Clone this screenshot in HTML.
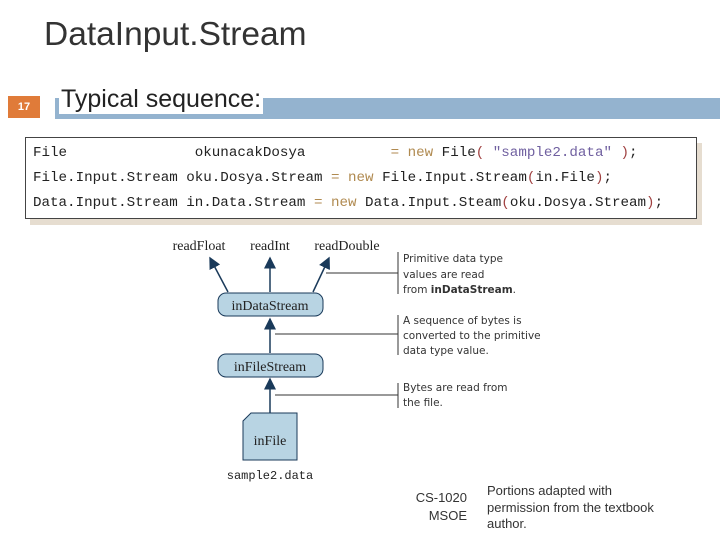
<!DOCTYPE html>
<html><head><style>
body{margin:0;width:720px;height:540px;background:#fff;position:relative;overflow:hidden;font-family:"Liberation Sans",sans-serif}
.a{position:absolute;white-space:pre}
.code{font-family:"Liberation Mono",monospace;font-size:14.2px;color:#222}
.k{color:#b08a50}.s{color:#7060a0}.p{color:#a04040}
</style></head><body>
<div class="a" style="left:44px;top:16px;font-size:33.5px;color:#333">DataInput.Stream</div>
<div class="a" style="left:55px;top:98px;width:665px;height:21px;background:#94b3cf"></div>
<div class="a" style="left:8px;top:96px;width:32px;height:22px;background:#e07b39;color:#fff;font-size:11px;font-weight:bold;text-align:center;line-height:22px">17</div>
<div class="a" style="left:59px;top:85px;font-size:25px;color:#222;background:#fff;padding:0 2px">Typical sequence:</div>
<div class="a" style="left:30px;top:143px;width:672px;height:82px;background:#e6ddd0"></div>
<div class="a" style="left:25px;top:137px;width:670px;height:80px;border:1px solid #444;background:#fff"></div>
<div class="a code" style="left:33px;top:145px">File               okunacakDosya          <span class="k">=</span> <span class="k">new</span> File<span class="p">(</span> <span class="s">"sample2.data"</span> <span class="p">)</span>;</div>
<div class="a code" style="left:33px;top:170px">File.Input.Stream oku.Dosya.Stream <span class="k">= new</span> File.Input.Stream<span class="p">(</span>in.File<span class="p">)</span>;</div>
<div class="a code" style="left:33px;top:195px">Data.Input.Stream in.Data.Stream <span class="k">= new</span> Data.Input.Steam<span class="p">(</span>oku.Dosya.Stream<span class="p">)</span>;</div>
<svg class="a" style="left:0;top:0" width="720" height="540">
<defs><marker id="ar" markerWidth="8" markerHeight="8" refX="7" refY="4" orient="auto"><path d="M0,0L8,4L0,8z" fill="#1a3a5a"/></marker></defs>
<g stroke="#1a3a5a" stroke-width="1.5" fill="none">
<line x1="228" y1="292" x2="210" y2="258" marker-end="url(#ar)"/>
<line x1="270" y1="292" x2="270" y2="258" marker-end="url(#ar)"/>
<line x1="313" y1="292" x2="329" y2="258" marker-end="url(#ar)"/>
<line x1="270" y1="353" x2="270" y2="319" marker-end="url(#ar)"/>
<line x1="270" y1="413" x2="270" y2="379" marker-end="url(#ar)"/>
</g>
<g stroke="#1a3a5a" stroke-width="1">
<rect x="218" y="293" width="105" height="23" rx="8" fill="#b8d4e3"/>
<rect x="218" y="354" width="105" height="23" rx="8" fill="#b8d4e3"/>
<path d="M251,413H297V460H243V421Z" fill="#b8d4e3"/>
</g>
<g stroke="#333" stroke-width="1">
<line x1="398" y1="252" x2="398" y2="294"/><line x1="326" y1="273" x2="398" y2="273"/>
<line x1="398" y1="315" x2="398" y2="355"/><line x1="275" y1="334" x2="398" y2="334"/>
<line x1="398" y1="383" x2="398" y2="408"/><line x1="275" y1="395" x2="398" y2="395"/>
</g>
<g font-family="Liberation Serif,serif" font-size="14" fill="#222" text-anchor="middle">
<text x="199" y="250">readFloat</text><text x="270" y="250">readInt</text><text x="347" y="250">readDouble</text>
<text x="270" y="310">inDataStream</text><text x="270" y="371">inFileStream</text><text x="270" y="445">inFile</text>
</g>
<text x="270" y="479" font-family="Liberation Mono,monospace" font-size="12" fill="#222" text-anchor="middle">sample2.data</text>
<g font-family="DejaVu Sans,sans-serif" font-size="10.5" fill="#333">
<text x="403" y="262">Primitive data type</text><text x="403" y="278">values are read</text><text x="403" y="293">from <tspan font-weight="bold">inDataStream</tspan>.</text>
<text x="403" y="324">A sequence of bytes is</text><text x="403" y="339">converted to the primitive</text><text x="403" y="354">data type value.</text>
<text x="403" y="391">Bytes are read from</text><text x="403" y="406">the file.</text>
</g>
<g font-family="Liberation Sans,sans-serif" font-size="13" fill="#333">
<text x="467" y="502" text-anchor="end">CS-1020</text><text x="467" y="520" text-anchor="end">MSOE</text>
<text x="487" y="495">Portions adapted with</text><text x="487" y="512">permission from the textbook</text><text x="487" y="528">author.</text>
</g>
</svg>
</body></html>
